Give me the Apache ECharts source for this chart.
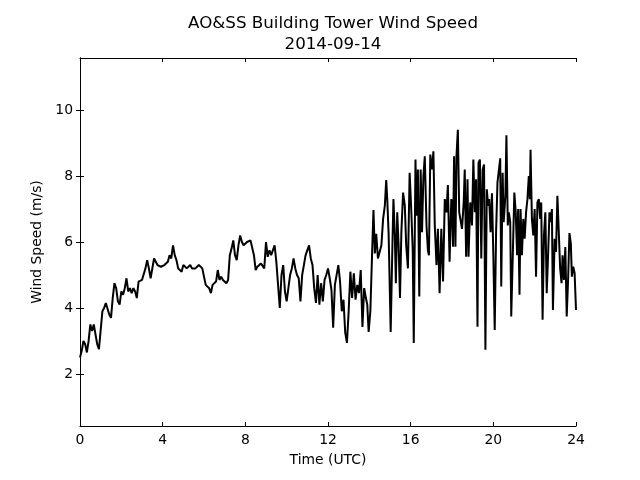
<!DOCTYPE html>
<html>
<head>
<meta charset="utf-8">
<script src="https://cdn.jsdelivr.net/npm/echarts@6/dist/echarts.min.js"></script>
<style>html,body{margin:0;padding:0;background:#fff}#c{width:640px;height:480px}</style>
</head>
<body>
<div id="c"></div>
<script>
// Readings every 5 minutes from 00:00 to 13:50 UTC (m/s)
const gridStepMinutes = 5;
const gridSpeed = [
  2.5, 2.7, 3.0, 2.9, 2.65, 3.0, 3.5, 3.3, 3.5, 3.2, 2.9, 2.75,
  2.7, 3.9, 4.0, 4.15, 4.2, 3.8, 3.7, 4.3, 4.75, 4.6, 4.2, 4.1,
  4.5, 4.4, 4.6, 4.9, 4.5, 4.6, 4.45, 4.6, 4.5, 4.3, 4.8, 4.85,
  4.85, 4.8, 5.2, 5.45, 5.2, 4.9, 4.95, 5.5, 5.5, 5.3, 5.3, 5.25,
  5.2, 5.3, 5.25, 5.4, 5.6, 5.5, 5.9, 5.6, 5.45, 5.2, 5.15, 5.1,
  5.3, 5.35, 5.2, 5.15, 5.3, 5.2, 5.25, 5.2, 5.15, 5.3, 5.25, 5.2,
  5.15, 4.7, 4.65, 4.6, 4.45, 4.7, 4.75, 4.8, 5.15, 4.85, 4.95, 4.85,
  4.8, 4.75, 4.85, 5.6, 5.8, 6.05, 5.6, 5.45, 5.9, 6.2, 6.0, 5.9,
  5.9, 6.0, 5.95, 6.05, 6.0, 5.6, 5.15, 5.25, 5.2, 5.35, 5.3, 5.2,
  6.0, 5.55, 5.75, 5.6, 5.65, 5.9, 5.4, 4.7, 4.0, 5.0, 5.3, 4.5,
  4.2, 4.6, 5.0, 5.2, 5.5, 5.2, 5.0, 4.9, 4.2, 5.0, 5.3, 5.6,
  5.55, 5.9, 5.5, 5.3, 4.6, 4.15, 5.0, 4.1, 4.75, 4.2, 4.85, 5.0,
  5.2, 4.9, 4.55, 3.4, 4.7, 4.75, 5.3, 4.8, 3.9, 4.25, 3.25, 2.94,
  3.9, 5.1, 4.3, 5.05, 4.25, 4.7, 4.45, 5.15, 3.42, 4.6, 4.3
];
// Gusty afternoon/evening readings: minute of day and speed (m/s)
const gustMinutes = [
  834, 838, 843, 848, 852, 856, 860, 865, 870, 875, 880, 885, 889, 892, 896,
  902, 907, 910, 914, 917, 921, 925, 929, 933, 938, 943, 947, 952, 957, 962,
  966, 969, 974, 977, 981, 985, 989, 993, 997, 1001, 1006, 1010, 1013, 1017, 1022,
  1026, 1030, 1035, 1039, 1044, 1049, 1054, 1059, 1064, 1068, 1073, 1078,
  1080, 1083, 1086, 1090, 1093, 1097, 1101, 1105, 1109, 1114, 1117, 1121, 1125, 1128,
  1133, 1138, 1142, 1146, 1150, 1154, 1157, 1161, 1165, 1169, 1173, 1177, 1181, 1185,
  1188, 1192, 1196, 1200, 1204, 1208, 1212, 1216, 1220, 1223, 1227, 1230, 1235, 1238,
  1242, 1245, 1249, 1252, 1257, 1261, 1265, 1269, 1272, 1276, 1279, 1283, 1287, 1291,
  1295, 1299, 1303, 1306, 1308, 1312, 1316, 1320, 1324, 1328, 1332, 1336, 1339, 1343,
  1347, 1351, 1355, 1359, 1363, 1367, 1370, 1373, 1378, 1382, 1386, 1390, 1394, 1398,
  1401, 1405, 1409, 1413, 1417, 1421, 1425, 1428, 1432, 1436, 1440
];
const gustSpeed = [
  4.1, 3.27, 3.9, 5.65, 6.97, 5.65, 6.25, 5.5, 5.45, 5.9, 6.7, 7.1, 7.88, 7.3, 6.25,
  3.27, 5.9, 7.3, 6.2, 4.75, 6.9, 5.9, 4.3, 6.3, 7.5, 7.1, 5.9, 5.2, 8.1, 6.9,
  5.75, 2.94, 8.5, 6.8, 8.2, 4.35, 8.2, 6.3, 8.0, 8.6, 6.5, 5.75, 5.6, 8.65, 8.2,
  8.75, 6.5, 5.3, 6.4, 4.45, 6.4, 4.8, 7.3, 6.9, 7.73, 5.4, 7.3,
  7.2, 5.86, 8.6, 5.86, 8.6, 9.4, 6.9, 6.9, 6.4, 7.2, 8.2, 5.55, 7.9, 5.55,
  7.2, 6.5, 8.5, 6.9, 7.9, 3.43, 8.4, 8.5, 5.5, 8.2, 8.35, 2.73, 7.6, 7.1,
  7.3, 6.3, 7.48, 5.6, 3.33, 6.3, 7.8, 7.8, 8.54, 4.65, 8.1, 6.6, 7.4, 9.24,
  6.5, 6.9, 6.6, 3.74, 5.8, 7.5, 6.9, 5.6, 7.0, 4.4, 7.0, 5.6, 6.7, 6.1,
  6.9, 7.3, 8.0, 7.3, 8.8, 6.7, 6.2, 7.0, 4.95, 7.2, 7.3, 6.7, 7.2, 3.64,
  6.2, 6.9, 4.45, 5.6, 6.9, 6.6, 7.0, 3.94, 6.1, 5.7, 7.4, 6.3, 5.2, 4.75,
  5.6, 4.85, 5.85, 3.74, 4.85, 6.27, 5.95, 4.95, 5.25, 5.05, 3.94
];
const xTickHours = [0, 4, 8, 12, 16, 20, 24];
const yTicks = [2, 4, 6, 8, 10];

const seriesData = [];
gridSpeed.forEach((v, i) => seriesData.push([i * gridStepMinutes, v]));
gustMinutes.forEach((m, i) => seriesData.push([m, gustSpeed[i]]));

const font = 'DejaVu Sans';
const lineStyle = { color: '#000', width: 1 };
const chart = echarts.init(document.getElementById('c'), null, { renderer: 'canvas' });
const xBase = { type: 'value', min: 0, max: 1440, interval: 240, splitLine: { show: false } };
const yBase = { type: 'value', min: 0.42, max: 11.58, splitLine: { show: false } };
chart.setOption({
  animation: false,
  backgroundColor: '#fff',
  title: {
    text: 'AO&SS Building Tower Wind Speed\n2014-09-14',
    left: 328, top: 8, textAlign: 'center',
    textStyle: { fontFamily: font, fontSize: 16.7, fontWeight: 'normal', color: '#000', lineHeight: 21 }
  },
  grid: { left: 80, right: 64, top: 58, bottom: 54 },
  xAxis: [
    Object.assign({}, xBase, {
      position: 'bottom',
      name: 'Time (UTC)', nameLocation: 'middle', nameGap: 27,
      nameTextStyle: { fontFamily: font, fontSize: 13.9, color: '#000' },
      axisLine: { show: true, lineStyle },
      axisTick: { show: true, inside: true, length: 4, lineStyle },
      axisLabel: { show: true, margin: 7, fontFamily: font, fontSize: 13.9, color: '#000',
        formatter: v => String(v / 60) }
    }),
    Object.assign({}, xBase, {
      position: 'top',
      axisLine: { show: true, lineStyle },
      axisTick: { show: true, inside: true, length: 4, lineStyle },
      axisLabel: { show: false }
    })
  ],
  yAxis: [
    Object.assign({}, yBase, {
      position: 'left',
      name: 'Wind Speed (m/s)', nameLocation: 'middle', nameGap: 35, nameRotate: 90,
      nameTextStyle: { fontFamily: font, fontSize: 13.9, color: '#000' },
      axisLine: { show: true, lineStyle },
      axisTick: { show: true, inside: true, length: 4, lineStyle, customValues: yTicks },
      axisLabel: { show: true, margin: 7, fontFamily: font, fontSize: 13.9, color: '#000', customValues: yTicks }
    }),
    Object.assign({}, yBase, {
      position: 'right',
      axisLine: { show: true, lineStyle },
      axisTick: { show: true, inside: true, length: 4, lineStyle, customValues: yTicks },
      axisLabel: { show: false }
    })
  ],
  series: [{
    type: 'line',
    xAxisIndex: 0, yAxisIndex: 0,
    data: seriesData,
    showSymbol: false,
    symbol: 'none',
    lineStyle: { color: '#000', width: 2 },
    clip: true
  }]
});
</script>
</body>
</html>
